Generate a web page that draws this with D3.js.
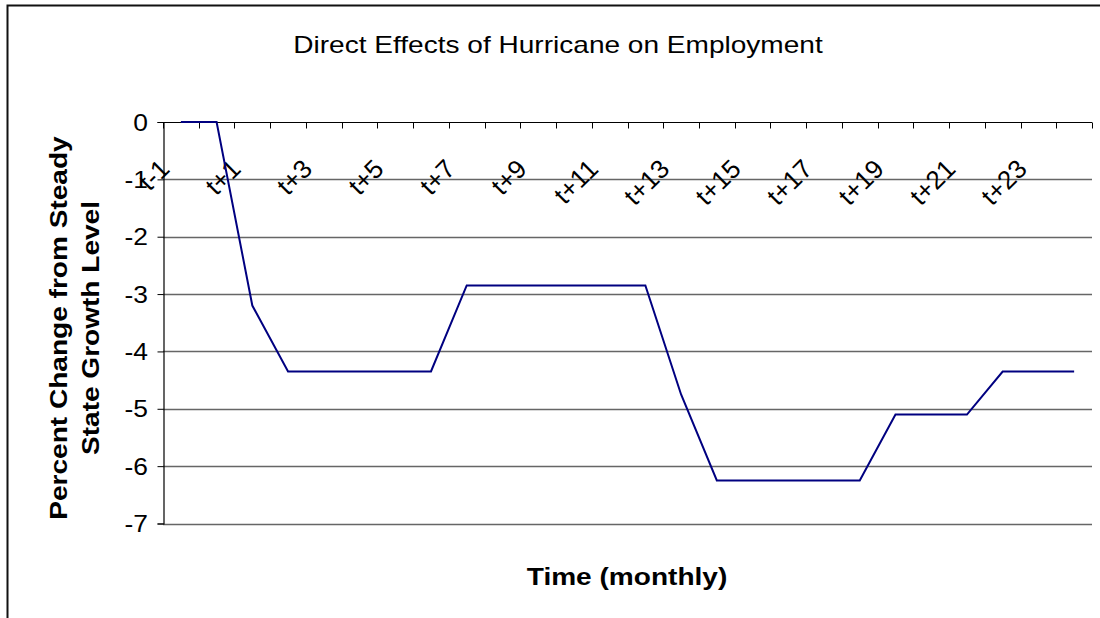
<!DOCTYPE html>
<html>
<head>
<meta charset="utf-8">
<script src="https://cdn.jsdelivr.net/npm/d3@7"></script>
<style>
  body { margin: 0; background: #fff; }
  svg { display: block; font-family: Arial, "Liberation Sans", sans-serif; }
</style>
</head>
<body>
<svg id="chart" width="1100" height="618"></svg>
<script>
// Chart data
const categories = ["t-1", "t", "t+1", "t+2", "t+3", "t+4", "t+5", "t+6", "t+7", "t+8",
    "t+9", "t+10", "t+11", "t+12", "t+13", "t+14", "t+15", "t+16", "t+17", "t+18",
    "t+19", "t+20", "t+21", "t+22", "t+23", "t+24"];
const employmentChange = [0, 0, -3.2, -4.35, -4.35, -4.35, -4.35, -4.35, -2.85, -2.85,
    -2.85, -2.85, -2.85, -2.85, -4.75, -6.25, -6.25, -6.25, -6.25, -6.25,
    -5.1, -5.1, -5.1, -4.35, -4.35, -4.35];
const yTicks = [0, -1, -2, -3, -4, -5, -6, -7];

const svg = d3.select("#chart");

// plot area
const plotLeft = 163, plotRight = 1092, plotTop = 122, plotBottom = 523.5;
// the original text is drawn a bit wider than Arial
const stretch = 1.22;

// outer chart border (right/bottom edges fall outside the window)
svg.append("rect")
    .attr("x", 7.5).attr("y", 5.5)
    .attr("width", 1200).attr("height", 700)
    .attr("fill", "none")
    .attr("stroke", "#111")
    .attr("stroke-width", 2);

const x = d3.scaleBand()
    .domain(categories)
    .range([plotLeft, plotRight]);

const y = d3.scaleLinear()
    .domain([-7, 0])
    .range([plotBottom, plotTop]);

// gridlines
svg.append("g")
    .selectAll("line")
    .data(yTicks.filter(d => d !== 0))
    .join("line")
    .attr("x1", plotLeft).attr("x2", plotRight)
    .attr("y1", d => Math.round(y(d)) + 0.5)
    .attr("y2", d => Math.round(y(d)) + 0.5)
    .attr("stroke", "#666")
    .attr("stroke-width", 1.4);

// y axis (line + outer ticks), labels drawn separately
const yAxis = svg.append("g")
    .attr("transform", `translate(${plotLeft + 0.5},0)`)
    .call(d3.axisLeft(y).tickValues(yTicks).tickSize(6).tickFormat(""));
yAxis.select(".domain").attr("stroke", "#000").attr("stroke-width", 1.2);
yAxis.selectAll(".tick line").attr("stroke", "#000");

svg.append("g")
    .selectAll("text")
    .data(yTicks)
    .join("text")
    .attr("transform", d => `translate(148,${y(d)}) scale(1.1,1)`)
    .attr("dy", "0.36em")
    .attr("text-anchor", "end")
    .attr("font-size", 24)
    .attr("fill", "#000")
    .text(d => d === 0 ? "0" : "-" + Math.abs(d));

// x axis at zero with inner ticks on band boundaries
const xAxisY = Math.round(y(0)) + 0.5;
svg.append("line")
    .attr("x1", plotLeft).attr("x2", plotRight)
    .attr("y1", xAxisY).attr("y2", xAxisY)
    .attr("stroke", "#000").attr("stroke-width", 1.2);
svg.append("g")
    .selectAll("line")
    .data(categories.concat(["_end"]))
    .join("line")
    .attr("x1", (d, i) => Math.round(plotLeft + i * x.bandwidth()) + 0.5)
    .attr("x2", (d, i) => Math.round(plotLeft + i * x.bandwidth()) + 0.5)
    .attr("y1", xAxisY).attr("y2", xAxisY + 6)
    .attr("stroke", "#000");

// category labels, every other one, rotated
svg.append("g")
    .selectAll("text")
    .data(categories.filter((d, i) => i % 2 === 0))
    .join("text")
    .attr("transform", d => `translate(${x(d) + x.bandwidth() / 2 - 10},${xAxisY + 48}) rotate(-45)`)
    .attr("text-anchor", "end")
    .attr("font-size", 26)
    .attr("fill", "#000")
    .text(d => d);

// the series line
const line = d3.line()
    .x((d, i) => x(categories[i]) + x.bandwidth() / 2)
    .y(d => y(d));

svg.append("path")
    .datum(employmentChange)
    .attr("fill", "none")
    .attr("stroke", "#000080")
    .attr("stroke-width", 2)
    .attr("d", line);

// title
svg.append("text")
    .attr("transform", `translate(558,53) scale(${stretch},1)`)
    .attr("text-anchor", "middle")
    .attr("font-size", 23)
    .attr("fill", "#000")
    .text("Direct Effects of Hurricane on Employment");

// x axis title
svg.append("text")
    .attr("transform", `translate(627,585) scale(${stretch},1)`)
    .attr("text-anchor", "middle")
    .attr("font-size", 23)
    .attr("font-weight", "bold")
    .attr("fill", "#000")
    .text("Time (monthly)");

// y axis title, two lines
const yTitle = svg.append("text")
    .attr("transform", `translate(67,328) rotate(-90) scale(${stretch},1)`)
    .attr("text-anchor", "middle")
    .attr("font-size", 23)
    .attr("font-weight", "bold")
    .attr("fill", "#000");
yTitle.append("tspan").attr("x", 0).attr("y", 0).text("Percent Change from Steady");
yTitle.append("tspan").attr("x", 0).attr("y", 32).text("State Growth Level");
</script>
</body>
</html>
